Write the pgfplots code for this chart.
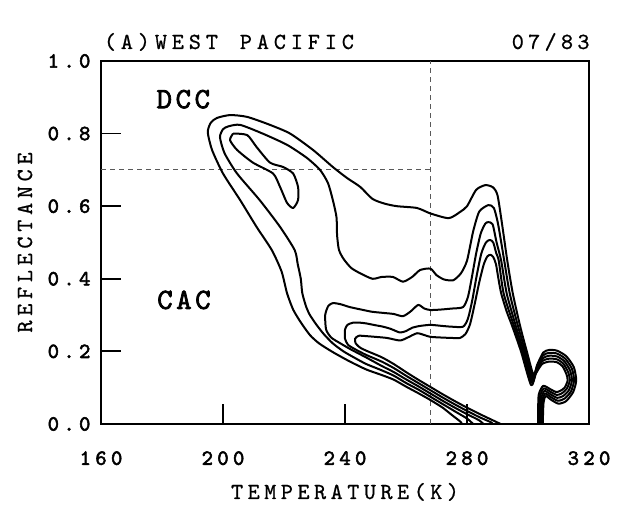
\documentclass[border=0pt]{standalone}
\usepackage{fontspec}
\usepackage{pgfplots}
\pgfplotsset{compat=1.18}

% letter-spaced typewriter text: each character in a box of fixed width
\newlength\cw
\def\spc#1#2{\setlength\cw{#1}\spcloop#2\relax}
\def\spcloop#1{\ifx\relax#1\else\makebox[\cw]{#1}\expandafter\spcloop\fi}
\newfontfamily\monoR{lmmono10-regular}[Extension=.otf, FakeBold=0.8]
\newfontfamily\monoB{lmmono10-regular}[Extension=.otf, FakeBold=2.5]
\newcommand\tfont{\fontsize{11.5}{13}\selectfont\monoR}
\newcommand\bfont{\fontsize{10.8}{12}\selectfont\monoB}
\newcommand\lfont{\fontsize{14.7}{16}\selectfont\monoB}

\pgfplotsset{ctr/.style={black, line width=1pt, no markers, line join=round, smooth, tension=0.4}}

\begin{document}
\begin{tikzpicture}
\begin{axis}[
    scale only axis,
    width=244pt, height=181.5pt,
    xmin=160, xmax=320, ymin=0, ymax=1,
    clip mode=individual,
    axis line style={line width=1pt},
    tick align=inside,
    major tick length=10pt,
    tick style={black, line width=0.9pt},
    xtick={160,200,240,280,320},
    xticklabels={\spc{7.85pt}{160},\spc{7.85pt}{200},\spc{7.85pt}{240},\spc{7.85pt}{280},\spc{7.85pt}{320}},
    ytick={0,0.2,0.4,0.6,0.8,1.0},
    yticklabels={\spc{7.85pt}{0.0},\spc{7.85pt}{0.2},\spc{7.85pt}{0.4},\spc{7.85pt}{0.6},\spc{7.85pt}{0.8},\spc{7.85pt}{1.0}},
    xtick pos=bottom, ytick pos=left,
    xticklabel style={font=\bfont, inner sep=0pt, anchor=north, yshift=-13.5pt},
    yticklabel style={font=\bfont, inner sep=0pt, anchor=east, xshift=-4pt},
]
% reference lines
\addplot[gray!70!black, line width=0.5pt, dash pattern=on 2.5pt off 2pt, no markers] coordinates {(268,0) (268,1)};
\addplot[gray!70!black, line width=0.5pt, dash pattern=on 2.5pt off 2pt, no markers] coordinates {(160,0.70) (268,0.70)};

% outermost contour
\addplot[ctr] coordinates {
(279,-0.01) (278,0.005) (275,0.025) (272,0.045) (268,0.066) (264,0.085) (260,0.103) (256,0.122) (252,0.135) (247,0.150)
(241.6,0.172) (236,0.198) (231.5,0.222) (228.5,0.245) (225.5,0.28) (223,0.315) (221,0.36) (219.2,0.42) (216,0.479)
(211,0.543) (205.6,0.617) (200,0.69) (196.4,0.755) (195,0.804) (196,0.83) (198,0.843) (202.3,0.851) (207.9,0.846)
(215.4,0.824) (222,0.80) (229.5,0.755) (236,0.708) (240.6,0.678) (245,0.653) (249,0.62) (253,0.607) (257,0.60)
(263.6,0.595) (268,0.58) (274,0.567) (277.7,0.584) (280,0.60) (283,0.645) (286,0.658) (288.5,0.652) (290,0.63)
(291.5,0.55) (293.2,0.45) (295,0.36) (297.4,0.27) (299.6,0.2) (301.8,0.135) (303,0.163) (305,0.197) (307,0.204)
(309.5,0.202) (312.5,0.187) (315,0.157) (315.8,0.12) (314.8,0.088) (312.5,0.063) (310,0.056) (307.5,0.067)
(305.8,0.077) (305.1,0.06) (304.9,0.02) (304.9,-0.01)};

% second contour
\addplot[ctr] coordinates {
(283,-0.01) (282,0.0) (280,0.015) (276,0.035) (272,0.055) (268,0.075) (264,0.095) (260,0.113) (256,0.133) (252,0.148)
(247,0.165) (243,0.183) (239.5,0.2) (236,0.222) (233,0.248) (230.5,0.275) (228.5,0.30) (227.3,0.322) (226,0.36)
(225.5,0.40) (224.5,0.44) (223.5,0.479) (218.7,0.543) (212,0.617) (204.6,0.69) (200.5,0.746) (199,0.79) (200,0.812)
(201.8,0.82) (205.6,0.824) (213,0.80) (221,0.769) (227.5,0.733) (231.8,0.70) (234.4,0.664) (236,0.617) (237.2,0.57)
(237.4,0.52) (238,0.48) (239.5,0.455) (242,0.43) (245,0.415) (249,0.40) (252,0.405) (255.7,0.405) (259,0.392)
(262,0.405) (264.6,0.424) (268,0.428) (270,0.41) (272.5,0.398) (275.5,0.396) (278,0.415) (280,0.45) (282,0.53)
(284,0.585) (287,0.603) (288.8,0.595) (290.2,0.55) (292.2,0.45) (294,0.36) (296.7,0.27) (299.1,0.2) (301.6,0.128)
(302.9,0.157) (304.9,0.189) (307,0.196) (309.5,0.194) (312.2,0.18) (314.4,0.152) (315.1,0.12) (314.1,0.09)
(312,0.07) (309.8,0.064) (307.5,0.074) (305.6,0.084) (304.7,0.065) (304.5,0.02) (304.5,-0.01)};

% third contour (upper hook)
\addplot[ctr] coordinates {
(286,-0.005) (284,0.01) (280,0.027) (276,0.045) (272,0.064) (268,0.084) (264,0.104) (260,0.123) (256,0.143)
(252,0.16) (247,0.183) (242,0.205) (238.5,0.222) (235.5,0.238) (233.8,0.26) (233.5,0.30) (234.5,0.325) (236,0.333)
(238.5,0.33) (241.6,0.322) (246,0.314) (249,0.309) (253.8,0.305) (256,0.303) (259,0.297) (261.5,0.31) (264,0.328)
(266,0.318) (268,0.314) (271,0.315) (275,0.318) (278.7,0.322) (280.3,0.35) (281.5,0.40) (283,0.47) (284.5,0.525)
(286,0.552) (287,0.556) (288.4,0.55) (289.7,0.5) (291.2,0.45) (293,0.36) (296,0.27) (298.6,0.2) (301.4,0.121)
(302.8,0.151) (304.8,0.181) (307,0.188) (309.5,0.186) (311.9,0.173) (313.8,0.147) (314.4,0.12) (313.4,0.093)
(311.5,0.077) (309.6,0.072) (307.5,0.081) (305.4,0.091) (304.3,0.07) (304.1,0.02) (304.1,-0.01)};

% fourth contour
\addplot[ctr] coordinates {
(289,-0.005) (288,0.004) (284,0.019) (280,0.036) (276,0.054) (272,0.073) (268,0.093) (264,0.113) (260,0.133)
(256,0.154) (252,0.172) (247,0.19) (243.5,0.205) (241,0.218) (240,0.235) (240,0.26) (240.8,0.273) (242.6,0.279)
(245,0.279) (247,0.277) (250,0.272) (252.5,0.268) (255,0.262) (258,0.252) (260,0.256) (262,0.265) (264.5,0.27)
(268,0.273) (272,0.27) (275,0.268) (278.7,0.268) (280.3,0.29) (281.7,0.34) (283.2,0.41) (284.7,0.47) (286.2,0.50)
(287.5,0.507) (288.6,0.50) (289.6,0.47) (290.4,0.45) (292,0.36) (295.4,0.27) (298.1,0.2) (301.2,0.114)
(302.7,0.145) (304.7,0.173) (307,0.180) (309.5,0.178) (311.6,0.166) (313.2,0.142) (313.7,0.12) (312.7,0.097)
(311,0.084) (309.4,0.08) (307.5,0.088) (305.2,0.098) (303.9,0.075) (303.7,0.02) (303.7,-0.01)};

% fifth contour
\addplot[ctr] coordinates {
(292,-0.005) (291,0.0) (288,0.012) (284,0.028) (280,0.045) (276,0.063) (272,0.082) (268,0.102) (264,0.122)
(260,0.143) (256,0.165) (252,0.184) (247.5,0.2) (245,0.21) (243.5,0.222) (243.3,0.235) (244.5,0.243) (247,0.242)
(250,0.24) (253.8,0.237) (258,0.23) (260.5,0.238) (263.6,0.25) (266,0.245) (268,0.24) (272,0.238) (275,0.237)
(277.7,0.237) (279.5,0.248) (281,0.275) (282.5,0.33) (284,0.39) (285.5,0.44) (286.7,0.462) (287.7,0.466)
(288.6,0.46) (289.5,0.44) (290.3,0.4) (291.2,0.36) (293,0.31) (294.8,0.27) (297.7,0.2) (301.0,0.107)
(302.6,0.139) (304.6,0.165) (307,0.172) (309.5,0.170) (311.3,0.159) (312.6,0.137) (313,0.12) (312,0.1)
(310.5,0.091) (309.2,0.088) (307.5,0.095) (305,0.105) (303.5,0.08) (303.3,0.02) (303.3,-0.01)};

% closed inner contour near DCC
\addplot[ctr] coordinates {
(203.3,0.80) (207.9,0.796) (211,0.763) (215.4,0.72) (219.7,0.708) (223,0.69) (224.6,0.653) (224.6,0.617)
(223,0.595) (221,0.609) (218.7,0.653) (216.4,0.69) (209.8,0.72) (204.6,0.755) (202.3,0.782) (203.3,0.80)};

\node[font=\lfont, anchor=base, inner sep=0pt] at (axis cs:187,0.870) {\spc{9.5pt}{DCC}};
\node[font=\lfont, anchor=base, inner sep=0pt] at (axis cs:187.2,0.317) {\spc{9.5pt}{CAC}};
\node[font=\tfont, anchor=base west, inner sep=0pt, yshift=6pt] at (rel axis cs:0,1) {\spc{8.5pt}{(A)WEST~PACIFIC}};
\node[font=\tfont, anchor=base east, inner sep=0pt, yshift=6pt, xshift=1.5pt] at (rel axis cs:1,1) {\spc{8.2pt}{07/83}};
\node[font=\tfont, anchor=base, inner sep=0pt, yshift=-37.5pt] at (rel axis cs:0.5,0) {\spc{8.3pt}{TEMPERATURE(K)}};
\node[font=\tfont, anchor=base, inner sep=0pt, xshift=-34.5pt, rotate=90] at (rel axis cs:0,0.5) {\spc{8.4pt}{REFLECTANCE}};
\coordinate (bbl) at (rel axis cs:-0.207,-0.2231);
\coordinate (btr) at (rel axis cs:1.0635,1.168);
\end{axis}
\path (bbl) rectangle (btr);
\end{tikzpicture}
\end{document}
